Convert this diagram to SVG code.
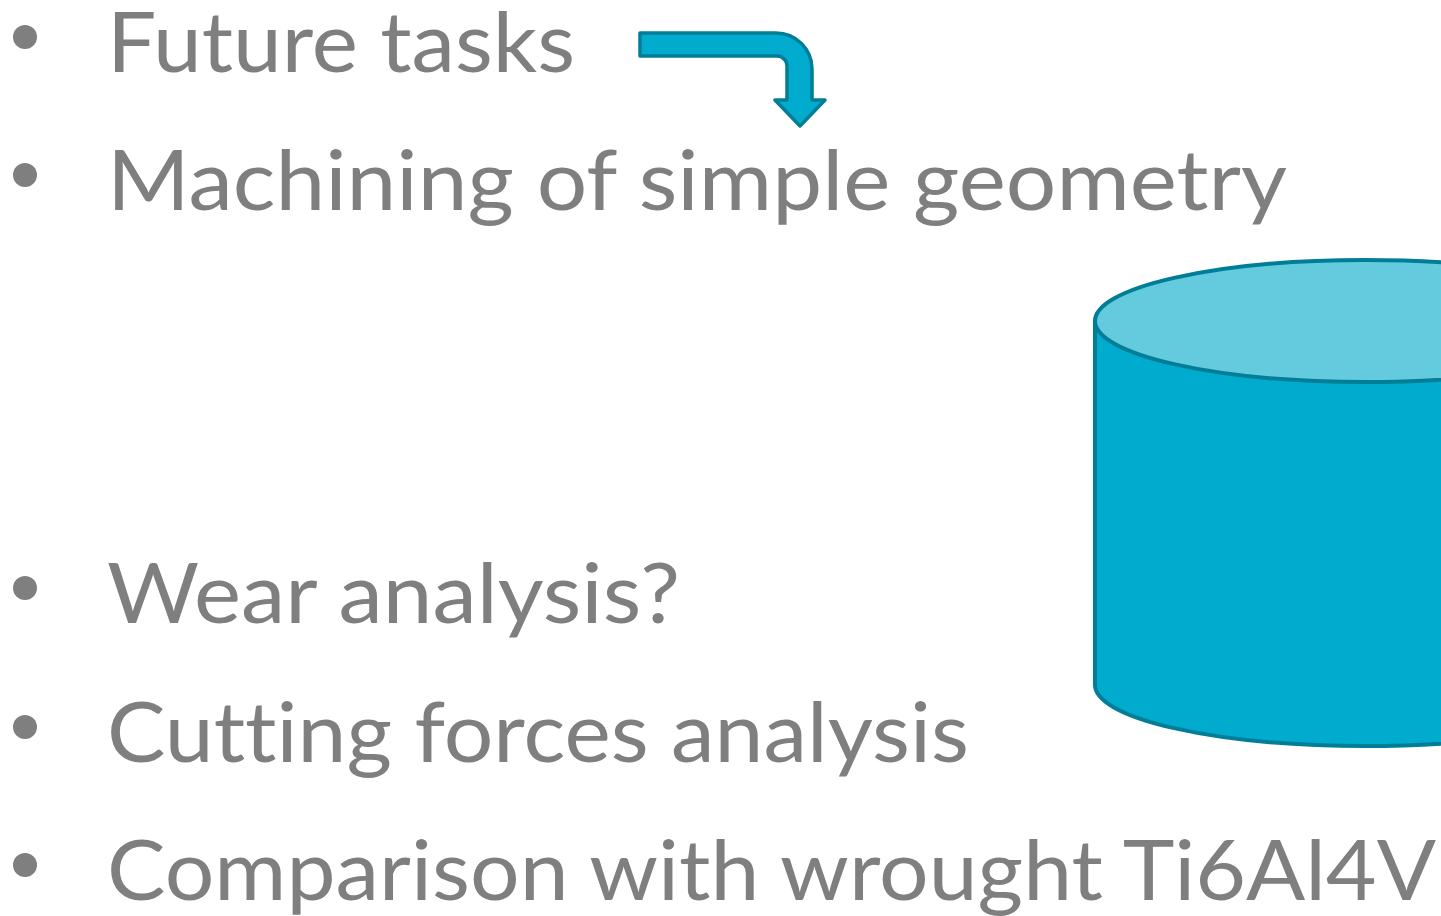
<svg xmlns="http://www.w3.org/2000/svg" width="1441" height="916" viewBox="0 0 1441 916">
<style>
.t{font-family:Lato,"Open Sans","Liberation Sans",sans-serif;font-size:84px;fill:#7f7f7f;font-variant-ligatures:none;font-feature-settings:"liga" 0,"clig" 0,"dlig" 0}
.b{fill:#7f7f7f}
.shape{stroke:#007e97;stroke-width:4;stroke-linejoin:round}
</style>
<rect width="1441" height="916" fill="#ffffff"/>
<g id="bullet-future">
<circle class="b" cx="25" cy="37" r="12"/>
<text class="t" x="107" y="72" textLength="468" lengthAdjust="spacingAndGlyphs">Future tasks</text>
</g>
<g id="bullet-machining">
<circle class="b" cx="25" cy="175" r="12"/>
<text class="t" x="107" y="210" textLength="1180" lengthAdjust="spacingAndGlyphs">Machining of simple geometry</text>
</g>
<g id="bullet-wear">
<circle class="b" cx="25" cy="588" r="12"/>
<text class="t" x="107" y="623" textLength="573" lengthAdjust="spacingAndGlyphs">Wear analysis?</text>
</g>
<g id="bullet-cutting">
<circle class="b" cx="25" cy="727" r="12"/>
<text class="t" x="107" y="762" textLength="862" lengthAdjust="spacingAndGlyphs">Cutting forces analysis</text>
</g>
<g id="bullet-comparison">
<circle class="b" cx="25" cy="865" r="12"/>
<text class="t" x="107" y="900" textLength="1329" lengthAdjust="spacingAndGlyphs">Comparison with wrought Ti6Al4V</text>
</g>
<g id="connectors">
<path id="bent-arrow" class="shape" style="stroke-width:3.5" fill="#00abcd" d="M640,33 L776,33 A36,36 0 0 1 812,69 L812,100 L825,100 L800,126 L775,100 L787,100 L787,66 A10,10 0 0 0 777,56 L640,56 Z"/>
</g>
<g id="cylinder">
<path class="shape" fill="#00abcd" d="M1095,321 L1095,685 A270,61 0 0 0 1635,685 L1635,321 Z"/>
<ellipse class="shape" fill="#64cbdf" cx="1365" cy="321" rx="270" ry="61"/>
</g>
</svg>
